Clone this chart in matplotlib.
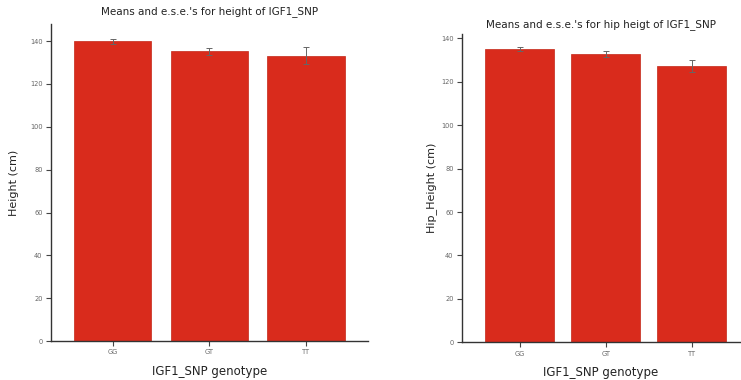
import matplotlib
matplotlib.use("Agg")
import matplotlib.pyplot as plt

genotypes = ["GG", "GT", "TT"]
height_means = [140.0, 135.2, 133.2]
height_ese = [1.2, 1.7, 4.0]
hip_means = [135.0, 132.8, 127.2]
hip_ese = [0.8, 1.3, 2.7]

bar_color = "#D92B1C"
txt_color = "#666666"

fig = plt.figure(figsize=(7.41, 3.80), dpi=100)
ax1 = fig.add_axes([0.0688, 0.1026, 0.4278, 0.8342])
ax2 = fig.add_axes([0.6235, 0.0992, 0.3752, 0.8113])

def draw(ax, means, ese, title, ylabel, ylim, xlim, title_pad, ylpad):
    x = list(range(len(genotypes)))
    ax.bar(x, means, width=0.8, color=bar_color, edgecolor="#C42616", linewidth=0.5, zorder=2)
    ax.errorbar(x, means, yerr=ese, fmt="none", ecolor="#666666", elinewidth=0.7,
                capsize=2, capthick=0.7, zorder=3)
    ax.set_xlim(*xlim)
    ax.set_ylim(*ylim)
    ax.set_xticks(x)
    ax.set_xticklabels(genotypes)
    ax.set_yticks(range(0, 141, 20))
    for s in ["top", "right"]:
        ax.spines[s].set_visible(False)
    for s in ["left", "bottom"]:
        ax.spines[s].set_color("#333333")
        ax.spines[s].set_linewidth(1.0)
    ax.tick_params(axis="both", labelsize=4.8, colors="#444444", labelcolor=txt_color,
                   length=3.5, width=0.8, pad=2.5)
    ax.set_title(title, fontsize=7.5, color="#222222", pad=title_pad)
    ax.set_xlabel("IGF1_SNP genotype", fontsize=8.5, color="#222222", labelpad=7)
    ax.set_ylabel(ylabel, fontsize=8, color="#222222", labelpad=ylpad)

draw(ax1, height_means, height_ese, "Means and e.s.e.'s for height of IGF1_SNP",
     "Height (cm)", (0, 148), (-0.64, 2.64), 7, 8)
draw(ax2, hip_means, hip_ese, "Means and e.s.e.'s for hip heigt of IGF1_SNP",
     "Hip_Height (cm)", (0, 142), (-0.67, 2.56), 5, 3)

fig.savefig("out.png", dpi=100)
